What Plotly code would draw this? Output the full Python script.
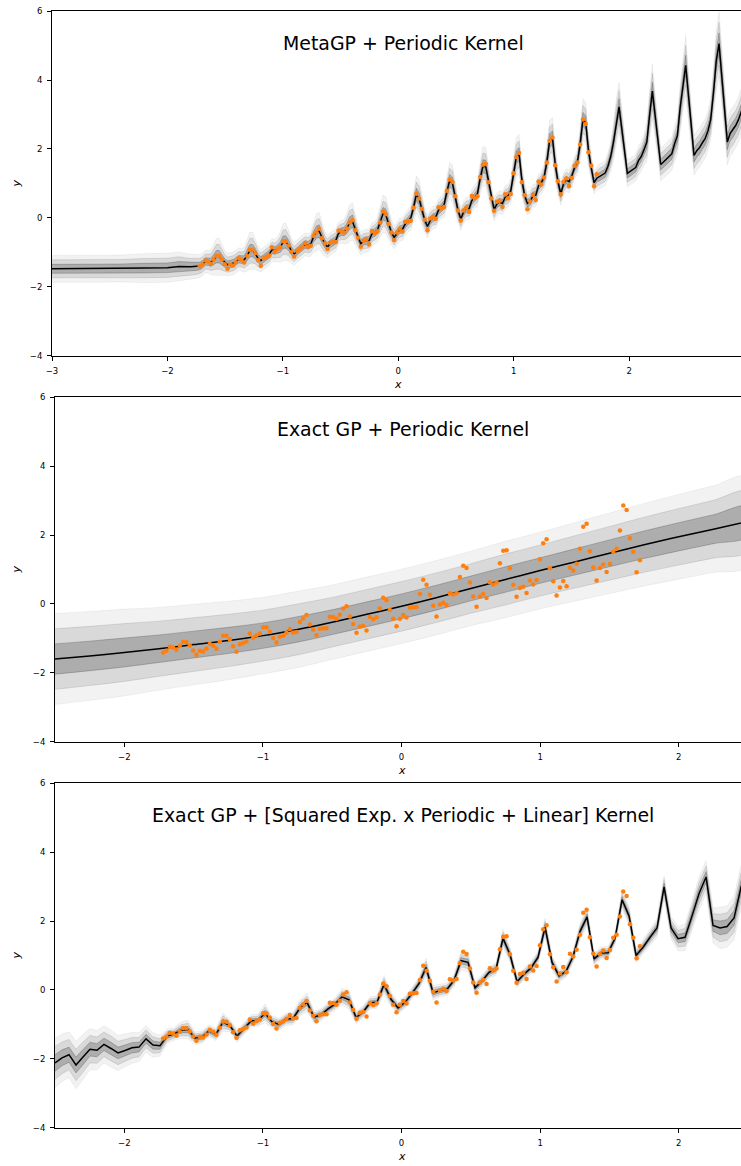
import numpy as np
import plotly.graph_objects as go

# ---------------- observed data (standardised airline passengers) ----------------
x_obs = np.linspace(-1.720, 1.720, 144)
y_obs = [
    -1.408, -1.358, -1.241, -1.266, -1.333, -1.215, -1.107, -1.107, -1.207, -1.349, -1.475, -1.358,
    -1.383, -1.291, -1.165, -1.215, -1.299, -1.098, -0.923, -0.923, -1.023, -1.232, -1.391, -1.174,
    -1.132, -1.090, -0.856, -0.981, -0.906, -0.856, -0.680, -0.680, -0.806, -0.990, -1.123, -0.956,
    -0.914, -0.839, -0.730, -0.831, -0.814, -0.521, -0.421, -0.320, -0.596, -0.747, -0.906, -0.722,
    -0.705, -0.705, -0.371, -0.379, -0.429, -0.312, -0.136, -0.069, -0.362, -0.580, -0.839, -0.663,
    -0.638, -0.772, -0.379, -0.446, -0.387, -0.136, 0.182, 0.106, -0.178, -0.429, -0.647, -0.429,
    -0.320, -0.396, -0.111, -0.095, -0.086, 0.290, 0.700, 0.558, 0.265, -0.053, -0.362, -0.019,
    0.031, -0.028, 0.307, 0.274, 0.315, 0.784, 1.110, 1.043, 0.625, 0.215, -0.078, 0.215,
    0.290, 0.173, 0.633, 0.566, 0.625, 1.185, 1.545, 1.562, 1.035, 0.558, 0.207, 0.466,
    0.499, 0.315, 0.683, 0.566, 0.692, 1.294, 1.763, 1.880, 1.035, 0.658, 0.248, 0.474,
    0.667, 0.516, 1.052, 0.968, 1.169, 1.604, 2.239, 2.331, 1.528, 1.060, 0.683, 1.043,
    1.144, 0.926, 1.160, 1.512, 1.604, 2.131, 2.858, 2.725, 1.905, 1.512, 0.918, 1.269]

# ---------------- panel 1: MetaGP + Periodic kernel ----------------
meta_x_left = [-3.0, -2.8, -2.6, -2.4, -2.2, -2.0, -1.9, -1.8, -1.76]
meta_mean_left = [-1.48, -1.48, -1.48, -1.47, -1.46, -1.45, -1.41, -1.42, -1.41]
meta_std_left = [0.13, 0.13, 0.13, 0.13, 0.14, 0.14, 0.14, 0.12, 0.12]

meta_mean_obs = [
    -1.40, -1.35, -1.27, -1.27, -1.29, -1.22, -1.13, -1.13, -1.21, -1.31, -1.36, -1.34,
    -1.32, -1.27, -1.20, -1.21, -1.22, -1.10, -0.96, -0.95, -1.04, -1.18, -1.24, -1.18,
    -1.12, -1.06, -0.93, -0.95, -0.91, -0.85, -0.71, -0.70, -0.80, -0.96, -1.05, -0.97,
    -0.90, -0.83, -0.77, -0.80, -0.75, -0.55, -0.42, -0.38, -0.57, -0.75, -0.84, -0.75,
    -0.70, -0.65, -0.45, -0.40, -0.40, -0.30, -0.15, -0.10, -0.33, -0.57, -0.75, -0.68,
    -0.66, -0.65, -0.47, -0.43, -0.35, -0.12, 0.12, 0.08, -0.17, -0.42, -0.57, -0.45,
    -0.34, -0.33, -0.18, -0.09, 0.00, 0.30, 0.68, 0.55, 0.26, -0.06, -0.25, -0.08,
    0.01, 0.03, 0.22, 0.29, 0.38, 0.76, 1.08, 1.00, 0.62, 0.22, -0.03, 0.16,
    0.27, 0.27, 0.50, 0.60, 0.70, 1.15, 1.50, 1.48, 1.03, 0.58, 0.24, 0.40,
    0.46, 0.42, 0.60, 0.64, 0.78, 1.27, 1.76, 1.85, 1.10, 0.65, 0.42, 0.48,
    0.64, 0.66, 0.93, 1.02, 1.18, 1.62, 2.24, 2.32, 1.57, 1.05, 0.70, 0.98,
    1.10, 1.05, 1.22, 1.46, 1.62, 2.15, 2.86, 2.76, 1.95, 1.45, 1.02, 1.15]
meta_std_obs = [
    0.11, 0.11, 0.11, 0.11, 0.12, 0.15, 0.18, 0.18, 0.15, 0.12, 0.11, 0.11,
    0.11, 0.11, 0.11, 0.11, 0.12, 0.15, 0.18, 0.18, 0.15, 0.12, 0.11, 0.11,
    0.11, 0.11, 0.11, 0.11, 0.12, 0.15, 0.18, 0.18, 0.15, 0.12, 0.11, 0.11,
    0.11, 0.11, 0.11, 0.11, 0.12, 0.15, 0.18, 0.18, 0.15, 0.12, 0.11, 0.11,
    0.11, 0.11, 0.11, 0.11, 0.12, 0.15, 0.18, 0.18, 0.15, 0.12, 0.11, 0.11,
    0.11, 0.11, 0.11, 0.11, 0.12, 0.15, 0.18, 0.18, 0.15, 0.12, 0.11, 0.11,
    0.11, 0.11, 0.11, 0.11, 0.12, 0.15, 0.18, 0.18, 0.15, 0.12, 0.11, 0.11,
    0.11, 0.11, 0.11, 0.11, 0.12, 0.15, 0.18, 0.18, 0.15, 0.12, 0.11, 0.11,
    0.11, 0.11, 0.11, 0.11, 0.12, 0.15, 0.19, 0.19, 0.15, 0.12, 0.11, 0.11,
    0.11, 0.11, 0.11, 0.11, 0.12, 0.15, 0.19, 0.19, 0.15, 0.12, 0.11, 0.11,
    0.11, 0.11, 0.11, 0.11, 0.12, 0.16, 0.20, 0.20, 0.16, 0.12, 0.11, 0.11,
    0.11, 0.11, 0.11, 0.11, 0.12, 0.16, 0.20, 0.20, 0.16, 0.12, 0.11, 0.11]

meta_x_right = np.linspace(1.744, 2.995, 53)
meta_mean_right = [
    1.20, 1.24, 1.30, 1.50, 1.78, 2.20, 2.78, 3.22, 2.58, 1.93, 1.29, 1.35,
    1.40, 1.46, 1.66, 1.78, 1.98, 2.20, 2.98, 3.68, 2.97, 2.26, 1.55, 1.62,
    1.70, 1.78, 1.86, 2.15, 2.38, 3.19, 3.88, 4.43, 3.56, 2.68, 1.81, 1.95,
    2.04, 2.18, 2.30, 2.52, 2.85, 3.62, 4.55, 5.06, 4.11, 3.15, 2.20, 2.45,
    2.55, 2.68, 2.85, 3.10, 3.30]
meta_std_right = [
    0.12, 0.12, 0.12, 0.13, 0.14, 0.18, 0.22, 0.24, 0.19, 0.14, 0.13, 0.13,
    0.13, 0.13, 0.14, 0.14, 0.15, 0.19, 0.24, 0.26, 0.21, 0.17, 0.16, 0.16,
    0.16, 0.16, 0.16, 0.17, 0.18, 0.22, 0.27, 0.29, 0.23, 0.20, 0.19, 0.19,
    0.19, 0.19, 0.19, 0.19, 0.20, 0.24, 0.29, 0.31, 0.26, 0.23, 0.22, 0.22,
    0.22, 0.22, 0.22, 0.22, 0.23]

# ---------------- panel 2: Exact GP + Periodic kernel ----------------
exact_x = np.linspace(-2.5, 2.5, 21)
exact_mean = [-1.60, -1.51, -1.41, -1.30, -1.18, -1.06, -0.92, -0.74, -0.53, -0.30, -0.07,
              0.18, 0.45, 0.71, 0.97, 1.22, 1.47, 1.72, 1.95, 2.17, 2.40]
exact_std = [0.44, 0.43, 0.42, 0.40, 0.39, 0.38, 0.37, 0.37, 0.36, 0.36, 0.36,
             0.36, 0.36, 0.37, 0.37, 0.38, 0.39, 0.40, 0.41, 0.42, 0.43]

# ---------------- panel 3: Exact GP + [SE x Periodic + Linear] kernel ----------------
sm_x = np.linspace(-2.5, 2.5, 100)
sm_mean = [
    -2.12, -1.97, -1.88, -2.18, -1.95, -1.72, -1.75, -1.58, -1.70, -1.83, -1.76, -1.68, -1.66, -1.42, -1.60, -1.62,
    -1.34, -1.28, -1.17, -1.15, -1.40, -1.37, -1.19, -1.29, -0.93, -1.04, -1.34, -1.12, -0.90, -0.88, -0.68, -0.93,
    -1.00, -0.85, -0.83, -0.52, -0.36, -0.79, -0.72, -0.55, -0.41, -0.20, -0.29, -0.80, -0.64, -0.38, -0.35, 0.16,
    -0.27, -0.52, -0.36, -0.10, 0.19, 0.65, -0.08, -0.02, 0.02, 0.28, 0.85, 0.80, 0.06, 0.26, 0.51, 0.61,
    1.50, 1.02, 0.24, 0.46, 0.64, 0.95, 1.82, 0.80, 0.41, 0.54, 0.97, 1.70, 2.12, 0.90, 1.07, 1.08,
    1.50, 2.62, 2.15, 1.00,
    1.24, 1.53, 1.80, 2.99, 1.80, 1.49, 1.53, 2.15, 2.80, 3.28, 1.87, 1.80, 1.84, 2.09, 2.99, 3.50]
sm_std = [
    0.24, 0.23, 0.22, 0.23, 0.22, 0.20, 0.19, 0.18, 0.18, 0.17, 0.16, 0.15, 0.14, 0.13, 0.12, 0.10,
    0.07, 0.06, 0.08, 0.09, 0.06, 0.06, 0.06, 0.06, 0.09, 0.06, 0.06, 0.06, 0.06, 0.06, 0.09, 0.06,
    0.06, 0.06, 0.06, 0.08, 0.09, 0.06, 0.06, 0.06, 0.06, 0.08, 0.09, 0.06, 0.06, 0.06, 0.06, 0.09,
    0.07, 0.06, 0.06, 0.06, 0.06, 0.09, 0.07, 0.06, 0.06, 0.06, 0.09, 0.09, 0.06, 0.06, 0.06, 0.06,
    0.09, 0.07, 0.06, 0.06, 0.06, 0.06, 0.09, 0.07, 0.06, 0.06, 0.06, 0.08, 0.09, 0.06, 0.06, 0.06,
    0.06, 0.09, 0.09, 0.07,
    0.07, 0.08, 0.09, 0.11, 0.11, 0.12, 0.13, 0.15, 0.16, 0.16, 0.17, 0.20, 0.20, 0.21, 0.21, 0.22]

titles = ["MetaGP + Periodic Kernel",
          "Exact GP + Periodic Kernel",
          "Exact GP + [Squared Exp. x Periodic + Linear] Kernel"]

y_ticks = [-4, -2, 0, 2, 4, 6]
y_ticktext = ["\u22124", "\u22122", "0", "2", "4", "6"]
x1_ticks = [-3, -2, -1, 0, 1, 2]
x1_ticktext = ["\u22123", "\u22122", "\u22121", "0", "1", "2"]
x23_ticks = [-2, -1, 0, 1, 2]
x23_ticktext = ["\u22122", "\u22121", "0", "1", "2"]

# ---------------- figure ----------------
W, H = 741, 1166
fig = go.Figure()

meta_x = np.concatenate([meta_x_left, x_obs, meta_x_right])
meta_mean = np.concatenate([meta_mean_left, meta_mean_obs, meta_mean_right])
meta_std = np.concatenate([meta_std_left, meta_std_obs, meta_std_right])


def add_panel(xs, mean, std, xa, ya, shape):
    xs = np.asarray(xs, float)
    m = np.asarray(mean, float)
    s = np.asarray(std, float)
    for k, a in [(3, 0.05), (2, 0.10), (1, 0.20)]:
        up = m + k * s
        lo = m - k * s
        fig.add_trace(go.Scatter(
            x=np.concatenate([xs, xs[::-1]]), y=np.concatenate([up, lo[::-1]]),
            mode="lines", fill="toself", fillcolor=f"rgba(0,0,0,{a})",
            line=dict(color=f"rgba(0,0,0,{a})", width=1, shape=shape),
            xaxis=xa, yaxis=ya, hoverinfo="skip", showlegend=False))
    fig.add_trace(go.Scatter(x=xs, y=m, mode="lines",
                             line=dict(color="black", width=1.5, shape=shape),
                             xaxis=xa, yaxis=ya, showlegend=False))
    fig.add_trace(go.Scatter(x=x_obs, y=y_obs, mode="markers",
                             marker=dict(color="#ff7f0e", size=4.5, line=dict(width=0)),
                             xaxis=xa, yaxis=ya, showlegend=False))


add_panel(meta_x, meta_mean, meta_std, "x", "y", "linear")
add_panel(exact_x, exact_mean, exact_std, "x2", "y2", "spline")
add_panel(sm_x, sm_mean, sm_std, "x3", "y3", "linear")

tickfont = dict(family="DejaVu Sans", size=8.5, color="black")
common = dict(showline=True, linecolor="black", linewidth=1, ticks="outside", ticklen=4,
              tickwidth=1, tickcolor="black", showgrid=False, zeroline=False,
              tickfont=tickfont, ticklabelstandoff=3, automargin=False)

panels = [  # (top px, bottom px, left px, x range, ticks)
    (11.2, 355.6, 52.0, [-3.0, 2.969], x1_ticks, x1_ticktext),
    (397.3, 741.7, 55.0, [-2.5, 2.449], x23_ticks, x23_ticktext),
    (783.3, 1127.7, 55.0, [-2.5, 2.449], x23_ticks, x23_ticktext),
]
full_right = [3.0, 2.5, 2.5]
title_center_px = 403.0

layout = dict(width=W, height=H, margin=dict(l=0, r=0, t=0, b=0, pad=0, autoexpand=False),
              showlegend=False, plot_bgcolor="white", paper_bgcolor="white",
              font=dict(family="DejaVu Sans", color="black"))
annotations = []
for i, (top, bot, left, xr, xt, xtt) in enumerate(panels):
    sfx = "" if i == 0 else str(i + 1)
    layout["xaxis" + sfx] = dict(domain=[left / W, 1.0], range=xr, anchor="y" + sfx,
                                 tickvals=xt, ticktext=xtt, mirror=True, **common)
    layout["yaxis" + sfx] = dict(domain=[1 - bot / H, 1 - top / H], range=[-4, 6],
                                 anchor="x" + sfx, tickvals=y_ticks, ticktext=y_ticktext,
                                 **common)
    px_per_unit = (W - left) / (xr[1] - xr[0])
    axis_center = left + (full_right[i] - xr[0]) / 2 * px_per_unit
    # title inside the axes
    annotations.append(dict(text=titles[i], x=title_center_px / W, y=1 - (top + 32) / H,
                            xref="paper", yref="paper", showarrow=False,
                            xanchor="center", yanchor="middle",
                            font=dict(family="DejaVu Sans", size=18.9, color="black")))
    # axis labels
    annotations.append(dict(text="<i>x</i>", x=axis_center / W, y=1 - (bot + 29) / H,
                            xref="paper", yref="paper", showarrow=False,
                            xanchor="center", yanchor="middle",
                            font=dict(family="DejaVu Sans", size=11, color="black")))
    annotations.append(dict(text="<i>y</i>", x=16 / W, y=1 - ((top + bot) / 2) / H,
                            xref="paper", yref="paper", showarrow=False, textangle=-90,
                            xanchor="center", yanchor="middle",
                            font=dict(family="DejaVu Sans", size=11, color="black")))
layout["annotations"] = annotations
fig.update_layout(**layout)

fig.write_html("out.html")
